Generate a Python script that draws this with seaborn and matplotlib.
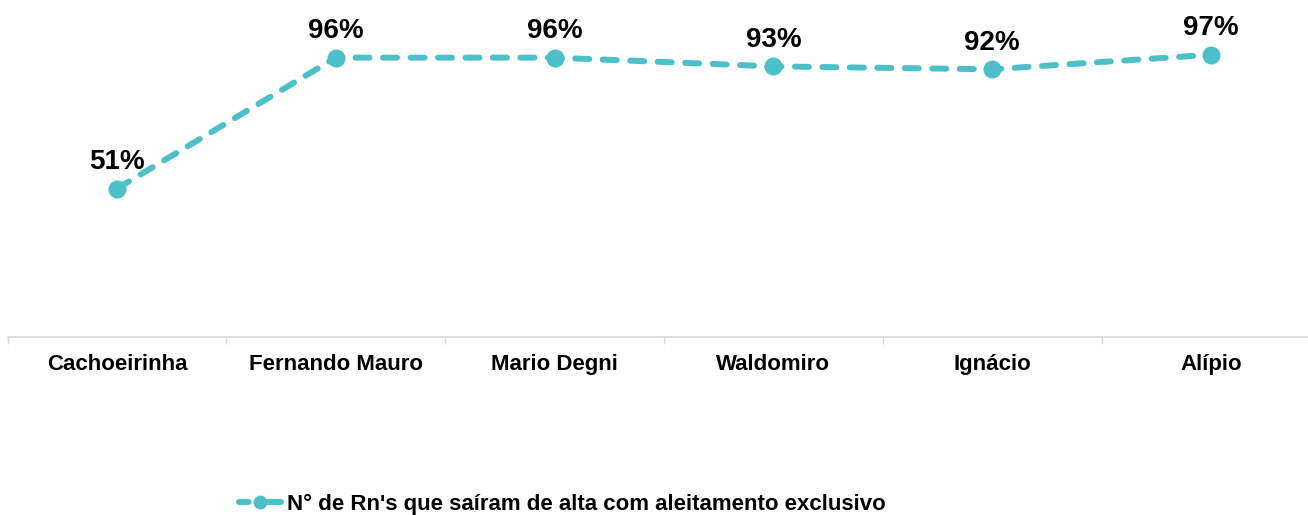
import matplotlib
matplotlib.use("Agg")
import matplotlib.pyplot as plt
import seaborn as sns
import pandas as pd
from matplotlib.ticker import FixedLocator

units = ["Cachoeirinha", "Fernando Mauro", "Mario Degni", "Waldomiro", "Ignácio", "Alípio"]
rates = [0.51, 0.96, 0.96, 0.93, 0.92, 0.97]
series_name = "N° de Rn's que saíram de alta com aleitamento exclusivo"

teal = "#4BC0C8"

sns.set_theme(style="white")
plt.rcParams["font.family"] = ["Liberation Sans", "DejaVu Sans"]

df = pd.DataFrame({"unidade": units, "taxa": rates, "serie": series_name})
df["pos"] = range(len(units))

fig = plt.figure(figsize=(13.08, 5.15), dpi=100)
W, H = 1308, 515
left_px, right_px = 7.6, 1320.4
top_px, base_px = 46, 337
ax = fig.add_axes([left_px / W, (H - base_px) / H,
                   (right_px - left_px) / W, (base_px - top_px) / H])

LW = 4.3
DASH = (2.35, 2.25)

sns.lineplot(data=df, x="pos", y="taxa", hue="serie", palette=[teal],
             sort=False, ax=ax, linewidth=LW, marker="o", markersize=13,
             markeredgewidth=0, legend=False, clip_on=False)
line = ax.lines[0]
line.set_dashes(DASH)
line.set_dash_capstyle("round")

for i, v in enumerate(rates):
    ax.annotate(f"{v:.0%}", (i, v), xytext=(0, 14), textcoords="offset points",
                ha="center", va="baseline", fontsize=20, fontweight="bold",
                color="#000000", annotation_clip=False)

ax.set_xlim(-0.5, len(units) - 0.5)
ax.set_ylim(0, 1)
ax.set_xticks(range(len(units)))
ax.set_xticklabels(units, fontsize=16, fontweight="bold", color="#000000")
ax.xaxis.set_minor_locator(FixedLocator([i - 0.5 for i in range(len(units) + 1)]))
ax.tick_params(axis="x", which="major", length=0, pad=12)
ax.tick_params(axis="x", which="minor", length=5, width=1, color="#D9D9D9",
               bottom=True, direction="out")
ax.set_yticks([])
ax.set_xlabel("")
ax.set_ylabel("")
for s in ["top", "right", "left"]:
    ax.spines[s].set_visible(False)
ax.spines["bottom"].set_color("#D9D9D9")
ax.spines["bottom"].set_linewidth(1.2)

handle = plt.Line2D([], [], color=teal, linewidth=LW, marker="o", markersize=10,
                    markeredgewidth=0)
handle.set_dashes((1.6, 1.5, 5, 1))
handle.set_dash_capstyle("round")
leg = fig.legend([handle], [series_name], loc="center left",
                 bbox_to_anchor=(239 / W, 1 - 504 / H), frameon=False,
                 borderpad=0, borderaxespad=0,
                 handlelength=1.9, handletextpad=0.25,
                 prop={"size": 16, "weight": "bold"})
for t in leg.get_texts():
    t.set_color("#000000")

fig.savefig("out.png", dpi=100, facecolor="white")
